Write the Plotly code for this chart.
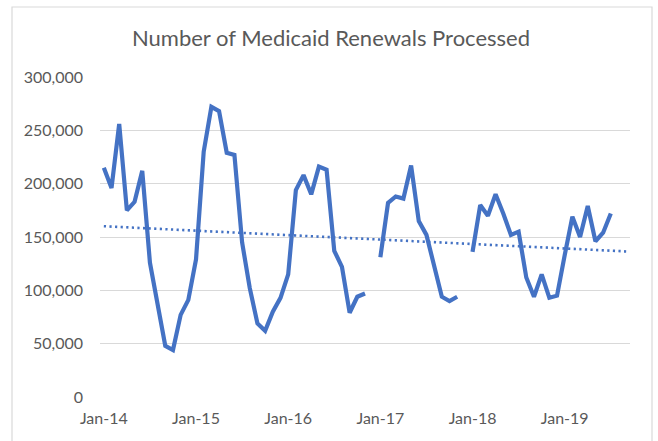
import numpy as np
import plotly.graph_objects as go

# Monthly renewals processed, Jan-2014 .. Sep-2019 (None = no report that month)
months = [f"{m}-{y}" for y in range(14, 20)
          for m in ["Jan", "Feb", "Mar", "Apr", "May", "Jun",
                    "Jul", "Aug", "Sep", "Oct", "Nov", "Dec"]][:69]

renewals_2014 = [215000, 196000, 256000, 175000, 183000, 212000,
                 126000, 86000, 48000, 44000, 77000, 91000]
renewals_2015 = [129000, 230000, 272000, 268000, 229000, 227000,
                 145000, 102000, 69000, 62000, 80000, 93000]
renewals_2016 = [115000, 194000, 208000, 190000, 216000, 213000,
                 137000, 122000, 79000, 94000, 97000, None]
renewals_2017 = [131000, 182000, 188000, 186000, 217000, 165000,
                 152000, 121000, 94000, 90000, 94000, None]
renewals_2018 = [136000, 180000, 170000, 190000, 172000, 152000,
                 155000, 112000, 94000, 115000, 93000, 95000]
renewals_2019 = [133000, 169000, 150000, 179000, 146000, 154000,
                 172000, None, None]

renewals = (renewals_2014 + renewals_2015 + renewals_2016 +
            renewals_2017 + renewals_2018 + renewals_2019)

x_tick_labels = ["Jan-14", "Jan-15", "Jan-16", "Jan-17", "Jan-18", "Jan-19"]
y_tick_values = [0, 50000, 100000, 150000, 200000, 250000, 300000]

idx = np.arange(len(months))
vals = np.array([np.nan if v is None else v for v in renewals], dtype=float)
ok = ~np.isnan(vals)

# Linear trendline fitted over the reported months, drawn across all months
slope, intercept = np.polyfit(idx[ok], vals[ok], 1)
trend = slope * idx + intercept

BLUE = "#4472C4"
GREY_TEXT = "#595959"
FONT = "Lato"

fig = go.Figure()
fig.add_trace(go.Scatter(
    x=idx, y=renewals, mode="lines", connectgaps=False,
    line=dict(color=BLUE, width=4.2, shape="linear"),
    hovertext=months, showlegend=False,
))
fig.add_trace(go.Scatter(
    x=idx, y=trend, mode="lines",
    line=dict(color=BLUE, width=2.6, dash="2.2px,3.4px"),
    showlegend=False, hoverinfo="skip",
))

W, H = 658, 441
L, R, T, B = 100, 28, 77, 44
pw, ph = W - L - R, H - T - B

def px_x(p):
    return (p - L) / pw

def px_y(p):
    return (H - B - p) / ph

# Chart area border
fig.add_shape(type="rect", xref="paper", yref="paper",
              x0=px_x(12), x1=px_x(652), y0=px_y(448), y1=px_y(7),
              line=dict(color="#D9D9D9", width=1.2), fillcolor="rgba(0,0,0,0)",
              layer="below")

fig.update_layout(
    width=W, height=H,
    margin=dict(l=L, r=R, t=T, b=B, pad=0),
    paper_bgcolor="white", plot_bgcolor="white",
    font=dict(family=FONT, color=GREY_TEXT),
    title=dict(text="Number of Medicaid Renewals Processed",
               x=(331 / W), xanchor="center", y=1 - 38 / H, yanchor="middle",
               font=dict(family=FONT, size=22, color=GREY_TEXT)),
    xaxis=dict(
        range=[-0.5, len(months) - 0.5],
        tickmode="array", tickvals=[0, 12, 24, 36, 48, 60],
        ticktext=x_tick_labels,
        showgrid=False, zeroline=False, showline=False,
        ticks="", ticklabelstandoff=10,
        tickfont=dict(family=FONT, size=16, color=GREY_TEXT),
    ),
    yaxis=dict(
        range=[0, 300000],
        tickmode="array", tickvals=y_tick_values,
        ticktext=[f"{v:,}" for v in y_tick_values],
        showgrid=True, gridcolor="#D9D9D9", gridwidth=1,
        zeroline=False, showline=False,
        ticks="", ticklabelstandoff=16,
        tickfont=dict(family=FONT, size=16, color=GREY_TEXT),
    ),
)

fig.write_html("out.html")
